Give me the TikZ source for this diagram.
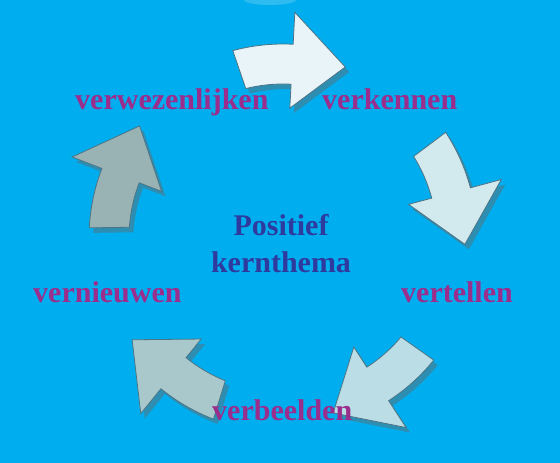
\documentclass[tikz,border=0pt]{standalone}
\usepackage{fontspec}
\setmainfont{Liberation Serif}
\usepackage{xcolor}
\usepackage{tikz}
\usetikzlibrary{shapes,arrows}
\definecolor{bgcyan}{HTML}{00AEEF}
\definecolor{stagecol}{HTML}{9B2D8C}
\definecolor{themecol}{HTML}{2E3A9E}
\definecolor{arrA}{HTML}{E8F4F8}
\definecolor{arrB}{HTML}{D2E9EE}
\definecolor{arrC}{HTML}{BBDEE6}
\definecolor{arrD}{HTML}{A8C8CB}
\definecolor{arrE}{HTML}{99B2B4}
\definecolor{arrline}{HTML}{4A7486}
\definecolor{arrshade}{HTML}{3A86A2}
\newcommand{\bentarrow}{(105:194pt) arc[start angle=105, end angle=87, radius=194pt]
-- (87:226pt) -- (70:182pt) -- (87:130pt)
-- (87:154pt) arc[start angle=87, end angle=104, radius=154pt] -- cycle}
\tikzset{
stage/.style={text=stagecol, font=\fontsize{30}{34}\selectfont\bfseries, inner sep=0pt, anchor=base west},
theme/.style={text=themecol, font=\fontsize{30}{34}\selectfont\bfseries, inner sep=0pt, anchor=base},
arrowbody/.style={draw=arrline, line width=0.8pt, line join=miter},
arrowshade/.style={fill=arrshade, opacity=0.8}
}
\begin{document}
\begin{tikzpicture}[x=1pt, y=1pt]
\useasboundingbox (0,0) rectangle (560,-463);
\fill[bgcyan] (0,0) rectangle (560,-463);
\fill[arrA, opacity=0.2] (270,0) ellipse (26 and 5);
%
\fill[arrowshade, shift={(287pt,-243pt)}, rotate=0] \bentarrow;
\fill[arrowshade, shift={(287pt,-243pt)}, rotate=-72] \bentarrow;
\fill[arrowshade, shift={(287pt,-243pt)}, rotate=-144] \bentarrow;
\fill[arrowshade, shift={(287pt,-243pt)}, rotate=-216] \bentarrow;
\fill[arrowshade, shift={(287pt,-243pt)}, rotate=-288] \bentarrow;
%
\filldraw[arrowbody, fill=arrA, shift={(283pt,-238pt)}, rotate=0] \bentarrow;
\filldraw[arrowbody, fill=arrB, shift={(283pt,-238pt)}, rotate=-72] \bentarrow;
\filldraw[arrowbody, fill=arrC, shift={(283pt,-238pt)}, rotate=-144] \bentarrow;
\filldraw[arrowbody, fill=arrD, shift={(283pt,-238pt)}, rotate=-216] \bentarrow;
\filldraw[arrowbody, fill=arrE, shift={(283pt,-238pt)}, rotate=-288] \bentarrow;
%
\node[stage] (verwezenlijken) at (75,-109) {verwezenlijken};
\node[stage] (verkennen) at (322,-109) {verkennen};
\node[stage] (vertellen) at (401,-302) {vertellen};
\node[stage] (verbeelden) at (212,-420) {verbeelden};
\node[stage] (vernieuwen) at (33,-302) {vernieuwen};
%
\node[theme] (positief) at (281,-235) {Positief};
\node[theme] (kernthema) at (281,-272) {kernthema};
\end{tikzpicture}
\end{document}
